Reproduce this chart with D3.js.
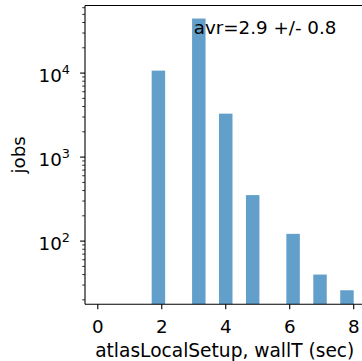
<!DOCTYPE html>
<html>
<head>
<meta charset="utf-8">
<script src="https://cdn.jsdelivr.net/npm/d3@7"></script>
<style>
  html, body { margin: 0; padding: 0; background: #fff; }
  svg { display: block; }
  text { font-family: "DejaVu Sans", sans-serif; fill: #000; }
</style>
</head>
<body>
<div id="chart"></div>
<script>
// ---- data ----
const binLo = 0, binHi = 8, binCount = 19;          // histogram binning
const binValues = [2, 3, 4, 5, 6, 7, 8];             // wallT values (sec)
const jobCounts = [10700, 44600, 3290, 353, 122, 40, 26];
const xTicks = [0, 2, 4, 6, 8];
const yMajorTicks = [100, 1000, 10000];
const xLabel = "atlasLocalSetup, wallT (sec)";
const yLabel = "jobs";
const note = "avr=2.9 +/- 0.8";

// ---- layout ----
const W = 362, H = 361;
const pL = 85, pR = 366.5, pT = 5.5, pB = 304.3;
const barColor = "#629fca";
const FS = 18.3;

const svg = d3.select("#chart").append("svg")
  .attr("width", W).attr("height", H);
svg.append("rect").attr("width", W).attr("height", H).attr("fill", "#fff");

const x = d3.scaleLinear().domain([-0.4, 8.4]).range([pL, pR]);
const y = d3.scaleLog().domain([17.7, 63750]).range([pB, pT]);

const binW = (binHi - binLo) / binCount;
const bars = binValues.map((v, i) => {
  const k = Math.min(binCount - 1, Math.floor((v - binLo) / binW));
  return { x0: binLo + k * binW, x1: binLo + (k + 1) * binW, n: jobCounts[i] };
});

svg.append("clipPath").attr("id", "plotclip")
  .append("rect").attr("x", pL).attr("y", pT)
  .attr("width", pR - pL).attr("height", pB - pT);

svg.append("g").attr("clip-path", "url(#plotclip)")
  .selectAll("rect").data(bars).enter().append("rect")
  .attr("x", d => x(d.x0))
  .attr("width", d => x(d.x1) - x(d.x0))
  .attr("y", d => y(d.n))
  .attr("height", d => pB - y(d.n))
  .attr("fill", barColor);

// spines
const spine = svg.append("g").attr("stroke", "#000").attr("stroke-width", 1.1).attr("fill", "none");
spine.append("line").attr("x1", pL).attr("x2", pL).attr("y1", pT).attr("y2", pB);
spine.append("line").attr("x1", pL).attr("x2", W + 5).attr("y1", pT).attr("y2", pT);
spine.append("line").attr("x1", pL).attr("x2", W + 5).attr("y1", pB).attr("y2", pB);

// x axis
const xg = svg.append("g");
xTicks.forEach(t => {
  xg.append("line").attr("x1", x(t)).attr("x2", x(t))
    .attr("y1", pB).attr("y2", pB + 4.9)
    .attr("stroke", "#000").attr("stroke-width", 1.1);
  xg.append("text").attr("x", x(t)).attr("y", 332.5)
    .attr("text-anchor", "middle").attr("font-size", FS).text(t);
});
svg.append("text").attr("x", (pL + pR) / 2 - 1).attr("y", 356.5)
  .attr("text-anchor", "middle").attr("font-size", 18.6).text(xLabel);

// y axis: minor ticks
const [ymin, ymax] = y.domain();
const minor = [];
for (let e = Math.floor(Math.log10(ymin)); e <= Math.ceil(Math.log10(ymax)); e++) {
  for (let m = 2; m <= 9; m++) {
    const v = m * Math.pow(10, e);
    if (v >= ymin && v <= ymax) minor.push(v);
  }
}
const yg = svg.append("g");
minor.forEach(v => {
  yg.append("line").attr("x1", pL - 2.8).attr("x2", pL)
    .attr("y1", y(v)).attr("y2", y(v))
    .attr("stroke", "#000").attr("stroke-width", 0.8);
});
yMajorTicks.forEach(v => {
  const yy = y(v);
  yg.append("line").attr("x1", pL - 4.9).attr("x2", pL)
    .attr("y1", yy).attr("y2", yy)
    .attr("stroke", "#000").attr("stroke-width", 1.1);
  const t = yg.append("text").attr("x", 70).attr("y", yy + 8.5)
    .attr("text-anchor", "end").attr("font-size", FS);
  t.append("tspan").text("10");
  t.append("tspan").attr("font-size", 12.8).attr("dy", -7.5).text(Math.round(Math.log10(v)));
});
svg.append("text")
  .attr("transform", `translate(25,${(pT + pB) / 2}) rotate(-90)`)
  .attr("text-anchor", "middle").attr("font-size", FS).text(yLabel);

// annotation
svg.append("text").attr("x", x(3)).attr("y", y(28800))
  .attr("font-size", FS).text(note);
</script>
</body>
</html>
